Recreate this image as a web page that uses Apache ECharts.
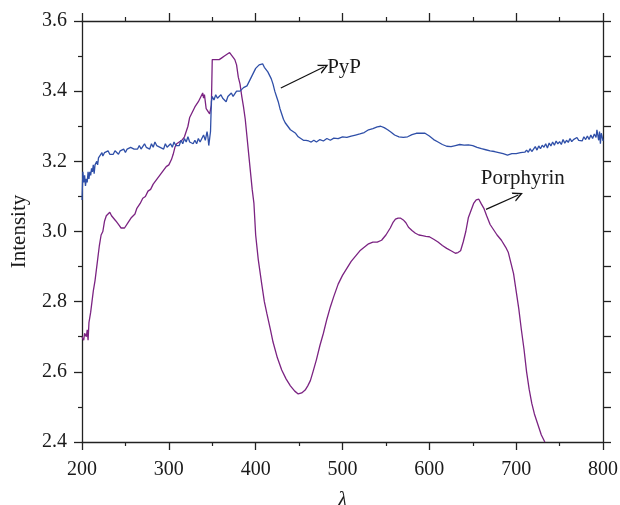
<!DOCTYPE html>
<html>
<head>
<meta charset="utf-8">
<script src="https://cdn.jsdelivr.net/npm/echarts@6/dist/echarts.min.js"></script>
<style>html,body{margin:0;padding:0;background:#fff;}#c{width:620px;height:505px;}</style>
</head>
<body>
<div id="c"></div>
<script>
// Porphyrin (purple) curve
var porphyrinX = [200,202,203,205,206,207,208,210,213,215,218,220,222,224,226,228,230,232,234,236,239,242,245,247,249,251,253,255,257,259,261,263,265,267,270,273,276,279,282,285,288,291,294,297,300,303,305,307,309,312,315,318,320,322,324,326,328,330,332,334,336,338,339,340,341,342,343,345,347,348,349,350,352,355,358,361,364,367,370,372,373,374,376,378,380,382,384,386,388,390,392,394,396,398,400,403,407,410,413,417,420,425,430,435,440,445,449,453,457,460,463,466,470,474,478,482,486,490,495,500,505,510,515,520,525,530,535,540,545,550,555,558,561,564,567,570,573,576,580,584,588,592,596,600,605,610,615,620,625,630,633,636,639,642,645,648,651,654,657,660,663,666,670,674,678,683,688,691,694,697,700,703,706,709,712,715,718,721,725,729,733];
var porphyrinY = [2.70,2.69,2.71,2.70,2.72,2.69,2.74,2.77,2.83,2.86,2.92,2.96,2.99,3.00,3.03,3.045,3.05,3.055,3.045,3.04,3.03,3.02,3.01,3.005,3.01,3.015,3.025,3.03,3.04,3.045,3.05,3.065,3.07,3.08,3.095,3.10,3.115,3.12,3.135,3.145,3.155,3.165,3.175,3.185,3.19,3.205,3.22,3.24,3.25,3.255,3.26,3.27,3.285,3.30,3.325,3.335,3.34,3.355,3.36,3.37,3.38,3.385,3.395,3.38,3.39,3.37,3.35,3.345,3.335,3.33,3.36,3.49,3.485,3.49,3.49,3.495,3.50,3.505,3.51,3.515,3.50,3.495,3.49,3.475,3.44,3.42,3.385,3.355,3.32,3.27,3.22,3.17,3.12,3.08,2.99,2.92,2.85,2.80,2.765,2.72,2.685,2.64,2.605,2.58,2.56,2.545,2.537,2.54,2.548,2.56,2.575,2.60,2.635,2.675,2.71,2.75,2.785,2.815,2.85,2.875,2.895,2.915,2.93,2.945,2.955,2.965,2.97,2.97,2.975,2.99,3.01,3.025,3.035,3.038,3.038,3.033,3.025,3.012,3.003,2.995,2.99,2.988,2.986,2.985,2.978,2.97,2.96,2.952,2.945,2.938,2.94,2.945,2.97,3.00,3.04,3.06,3.08,3.09,3.092,3.078,3.065,3.045,3.02,3.005,2.99,2.975,2.955,2.94,2.91,2.88,2.83,2.78,2.72,2.665,2.60,2.55,2.51,2.48,2.45,2.42,2.40];

// PyP (blue) curve
var pypX = [200,201,202,203,204,205,206,207,208,209,210,211,212,213,214,215,216,217,218,219,221,223,224,226,228,230,232,234,236,238,240,242,244,246,248,250,252,254,256,258,260,262,264,266,268,270,272,274,276,278,280,282,284,286,288,290,292,294,296,298,300,302,304,306,308,310,312,314,316,318,320,322,324,326,328,330,332,334,336,338,340,342,344,345,346,347,348,349,350,352,354,356,358,360,362,364,366,368,370,372,374,376,378,380,382,384,386,388,390,392,394,396,398,400,402,404,406,408,410,412,414,416,418,420,422,424,426,428,430,432,434,437,440,443,446,449,452,455,458,461,464,467,470,474,478,482,486,490,495,500,505,510,515,520,525,530,535,540,544,548,552,556,560,565,570,575,580,585,590,595,600,605,610,615,620,625,630,635,640,645,650,655,660,665,670,675,680,685,690,695,700,705,710,712,714,716,718,720,722,724,726,728,730,732,734,736,738,740,742,744,746,748,750,752,754,756,758,760,762,764,766,768,770,772,774,776,778,780,782,784,786,788,790,792,793,795,796,797,798,799,800];
var pypY = [3.09,3.17,3.14,3.16,3.13,3.15,3.14,3.17,3.15,3.17,3.16,3.18,3.17,3.19,3.165,3.19,3.185,3.20,3.19,3.21,3.215,3.225,3.215,3.225,3.22,3.23,3.22,3.225,3.22,3.23,3.225,3.22,3.23,3.225,3.235,3.225,3.235,3.23,3.24,3.245,3.235,3.24,3.235,3.245,3.235,3.24,3.25,3.24,3.245,3.235,3.25,3.24,3.255,3.245,3.25,3.24,3.245,3.235,3.25,3.24,3.245,3.25,3.24,3.255,3.245,3.25,3.245,3.26,3.25,3.265,3.255,3.27,3.255,3.26,3.25,3.26,3.25,3.265,3.255,3.25,3.275,3.26,3.285,3.27,3.245,3.24,3.285,3.37,3.385,3.375,3.39,3.38,3.385,3.39,3.38,3.375,3.37,3.385,3.38,3.395,3.385,3.39,3.40,3.395,3.40,3.405,3.41,3.415,3.415,3.425,3.435,3.445,3.455,3.465,3.47,3.475,3.47,3.478,3.468,3.465,3.455,3.445,3.435,3.42,3.40,3.385,3.37,3.35,3.335,3.32,3.31,3.30,3.29,3.285,3.28,3.27,3.265,3.26,3.26,3.258,3.255,3.26,3.255,3.262,3.258,3.265,3.26,3.266,3.265,3.27,3.268,3.272,3.275,3.278,3.282,3.29,3.293,3.298,3.30,3.296,3.29,3.283,3.275,3.27,3.268,3.27,3.276,3.28,3.28,3.28,3.272,3.262,3.255,3.248,3.243,3.242,3.245,3.248,3.246,3.247,3.245,3.24,3.236,3.233,3.23,3.228,3.225,3.222,3.218,3.222,3.222,3.225,3.226,3.232,3.226,3.236,3.228,3.235,3.242,3.232,3.244,3.236,3.246,3.24,3.25,3.238,3.252,3.244,3.255,3.246,3.258,3.25,3.256,3.248,3.262,3.252,3.26,3.254,3.265,3.256,3.262,3.258,3.268,3.26,3.264,3.258,3.27,3.262,3.272,3.262,3.275,3.265,3.278,3.268,3.29,3.26,3.285,3.25,3.28,3.27,3.258];

var xTicks = [200,300,400,500,600,700,800];
var yTicks = [2.4,2.6,2.8,3.0,3.2,3.4,3.6];

// annotation arrows (data coordinates): [x0,y0,x1,y1]
var pypArrow = [429, 3.409, 478.5, 3.469];
var porArrow = [665.3, 3.063, 702.5, 3.104];
var pypLabel = [480, 3.468, 'PyP'];
var porLabel = [657, 3.152, 'Porphyrin'];

function pairs(xs, ys){ var o=[]; for (var i=0;i<xs.length;i++) o.push([xs[i], ys[i]]); return o; }

var FONT = '"Liberation Serif", "DejaVu Serif", serif';
var AX = '#222';
var chevron = 'path://M0,10 L5,0 L10,10 L8.4,10 L5,3.2 L1.6,10 Z';

function arrowML(a){
  return {
    silent: true, animation: false,
    symbol: ['none', chevron], symbolSize: [10, 10],
    label: {show: false},
    lineStyle: {color: '#111', width: 1.2, type: 'solid'},
    emphasis: {disabled: true},
    data: [[{coord: [a[0], a[1]]}, {coord: [a[2], a[3]]}]]
  };
}
function labelMP(l){
  return {
    silent: true, animation: false,
    symbol: 'circle', symbolSize: 0,
    label: {show: true, position: 'right', distance: 2, formatter: l[2], fontFamily: FONT, fontSize: 21, color: '#1a1a1a'},
    data: [{coord: [l[0], l[1]]}]
  };
}

var chart = echarts.init(document.getElementById('c'), null, {renderer: 'canvas'});
var axisCommon = {
  axisLine: {show: true, lineStyle: {color: AX, width: 1.3}},
  splitLine: {show: false}
};
chart.setOption({
  animation: false,
  backgroundColor: '#fff',
  grid: {left: 82, right: 17, top: 21, bottom: 63, containLabel: false, outerBoundsMode: 'none'},
  xAxis: [
    Object.assign({
      type: 'value', position: 'bottom', min: xTicks[0], max: xTicks[xTicks.length-1], interval: 100,
      axisTick: {show: true, inside: false, length: 8, lineStyle: {color: AX, width: 1.3}},
      minorTick: {show: true, splitNumber: 2, length: 4, lineStyle: {color: AX, width: 1.2}},
      axisLabel: {fontFamily: FONT, fontSize: 20, color: '#1a1a1a', margin: 18},
      name: 'λ', nameLocation: 'middle', nameGap: 48,
      nameTextStyle: {fontFamily: FONT, fontSize: 21, fontStyle: 'italic', color: '#1a1a1a'}
    }, axisCommon),
    Object.assign({
      type: 'value', position: 'top', min: xTicks[0], max: xTicks[xTicks.length-1], interval: 100,
      axisTick: {show: true, inside: false, length: 8, lineStyle: {color: AX, width: 1.3}},
      minorTick: {show: true, splitNumber: 2, length: 4, lineStyle: {color: AX, width: 1.2}},
      axisLabel: {show: false}
    }, axisCommon)
  ],
  yAxis: [
    Object.assign({
      type: 'value', position: 'left', min: yTicks[0], max: yTicks[yTicks.length-1], interval: 0.2,
      axisTick: {show: true, inside: false, length: 8, lineStyle: {color: AX, width: 1.3}},
      minorTick: {show: true, splitNumber: 2, length: 4, lineStyle: {color: AX, width: 1.2}},
      axisLabel: {fontFamily: FONT, fontSize: 20, color: '#1a1a1a', margin: 15, formatter: function(v){ return v.toFixed(1); }},
      name: 'Intensity', nameLocation: 'middle', nameGap: 52,
      nameTextStyle: {fontFamily: FONT, fontSize: 21, color: '#1a1a1a'}
    }, axisCommon),
    Object.assign({
      type: 'value', position: 'right', min: 2.4, max: 3.6, interval: 0.1,
      axisTick: {show: true, inside: false, length: 8, lineStyle: {color: AX, width: 1.3}},
      axisLabel: {show: false}
    }, axisCommon)
  ],
  series: [
    {
      name: 'Porphyrin', type: 'line', xAxisIndex: 0, yAxisIndex: 0,
      data: pairs(porphyrinX, porphyrinY), showSymbol: false, symbol: 'none',
      lineStyle: {color: '#7b2382', width: 1.3}, itemStyle: {color: '#7b2382'},
      silent: true, clip: true,
      markLine: arrowML(porArrow),
      markPoint: labelMP(porLabel)
    },
    {
      name: 'PyP', type: 'line', xAxisIndex: 0, yAxisIndex: 0,
      data: pairs(pypX, pypY), showSymbol: false, symbol: 'none',
      lineStyle: {color: '#2f4fa8', width: 1.3}, itemStyle: {color: '#2f4fa8'},
      silent: true, clip: true,
      markLine: arrowML(pypArrow),
      markPoint: labelMP(pypLabel)
    }
  ]
});
</script>
</body>
</html>
